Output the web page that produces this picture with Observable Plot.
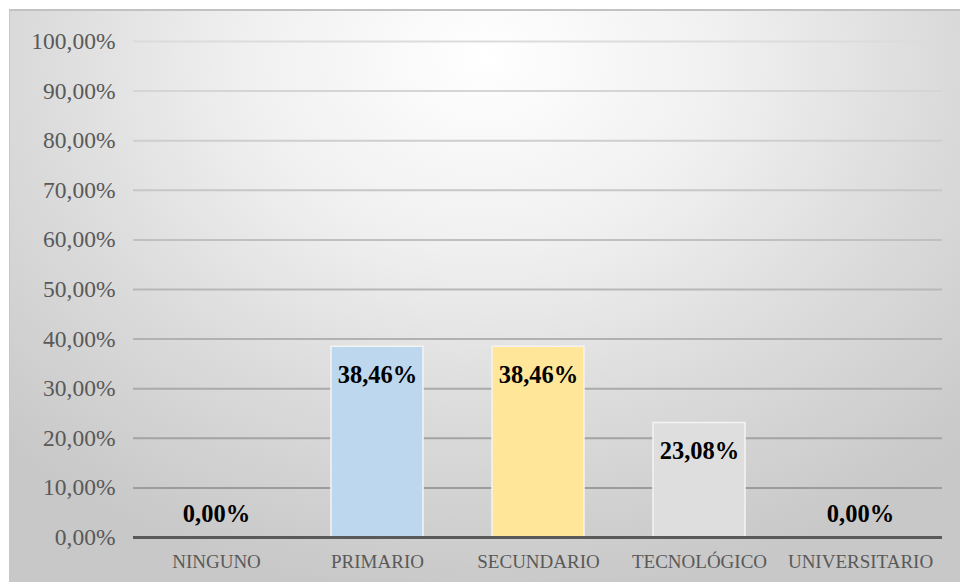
<!DOCTYPE html>
<html><head><meta charset="utf-8">
<script src="https://cdn.jsdelivr.net/npm/d3@7"></script>
<script src="https://cdn.jsdelivr.net/npm/@observablehq/plot@0.6"></script>
<style>
html,body{margin:0;padding:0;background:#fff;width:960px;height:582px;overflow:hidden;}
#frame{position:absolute;left:9px;top:9px;width:951px;height:573px;box-sizing:border-box;border-top:2px solid #c2c2c2;border-left:1px solid #c8c8c8;
background:radial-gradient(ellipse 72% 95% at 50% 8%, #ffffff 0%, #f0f0f0 35%, #dcdcdc 65%, #c8c8c8 100%);}
#chart{position:absolute;left:0;top:0;}
</style></head><body><div id="frame"></div><div id="chart"></div>
<script>
const categories = ["NINGUNO", "PRIMARIO", "SECUNDARIO", "TECNOLÓGICO", "UNIVERSITARIO"];
const values = [0, 0.3846, 0.3846, 0.2308, 0];
const barColors = ["#d9d9d9", "#bdd7ee", "#ffe699", "#dedede", "#d9d9d9"];
const yTicks = [0, 0.1, 0.2, 0.3, 0.4, 0.5, 0.6, 0.7, 0.8, 0.9, 1.0];

const data = categories.map((c, i) => ({category: c, value: values[i], color: barColors[i]}));
const fmt = v => (v * 100).toFixed(2).replace(".", ",") + "%";
const gridColor = d3.scaleLinear().domain([1, 0.1]).range(["#dcdcdc", "#9c9c9c"]);

const chart = Plot.plot({
  width: 960,
  height: 582,
  marginLeft: 133,
  marginRight: 18,
  marginTop: 41,
  marginBottom: 45,
  style: {background: "transparent", fontFamily: "'Liberation Serif', 'Times New Roman', serif", color: "#595959"},
  x: {type: "band", domain: categories, paddingInner: 0.43, paddingOuter: 0.215, axis: null},
  y: {domain: [0, 1], axis: null},
  color: {type: "identity"},
  marks: [
    Plot.ruleY(yTicks.filter(t => t > 0), {y: d => d, stroke: d => gridColor(d), strokeWidth: 2}),
    Plot.barY(data, {x: "category", y: "value", fill: "color", stroke: "#f4f4f4", strokeWidth: 1.5}),
    Plot.ruleY([0], {stroke: "#595959", strokeWidth: 3}),
    Plot.axisY({ticks: yTicks, tickFormat: fmt, tickSize: 0, tickPadding: 18, fontSize: 23.5, fill: "#595959", label: null}),
    Plot.axisX({tickSize: 0, tickPadding: 17, fontSize: 19, fill: "#595959", label: null}),
    Plot.text(data.filter(d => d.value > 0), {x: "category", y: "value", text: d => fmt(d.value), dy: 28, fontSize: 24.5, fontWeight: "bold", fill: "#000"}),
    Plot.text(data.filter(d => d.value === 0), {x: "category", y: "value", text: d => fmt(d.value), dy: -23, fontSize: 24.5, fontWeight: "bold", fill: "#000"})
  ]
});
document.getElementById("chart").appendChild(chart);
</script>
</body></html>
